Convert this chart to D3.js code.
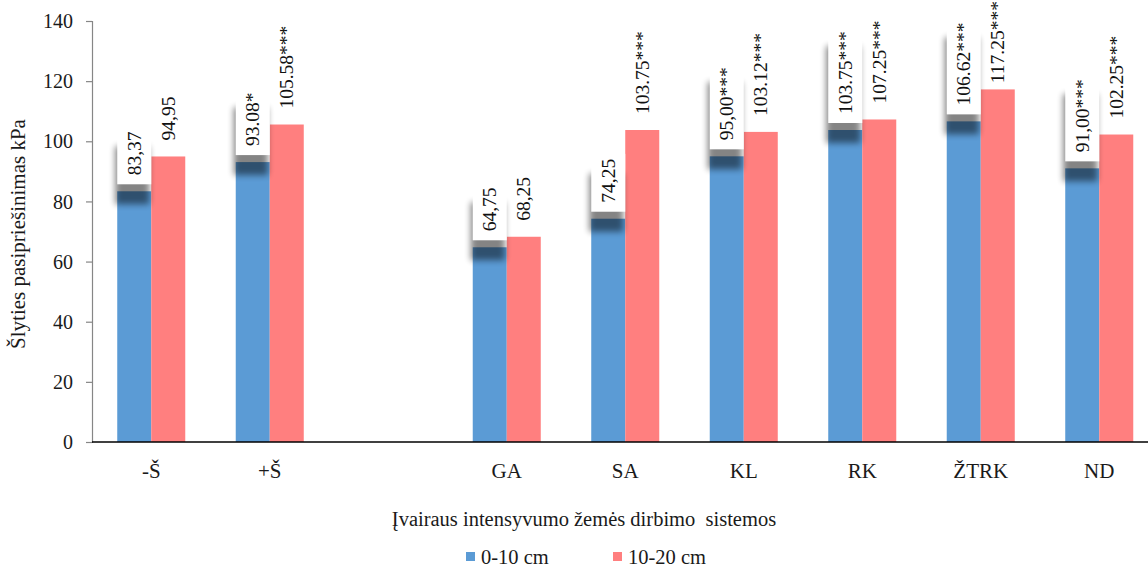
<!DOCTYPE html>
<html>
<head>
<meta charset="utf-8">
<script src="https://cdn.jsdelivr.net/npm/d3@7/dist/d3.min.js"></script>
<style>
  html, body { margin: 0; padding: 0; background: #fff; }
  svg { display: block; font-family: "Liberation Serif", "Times New Roman", serif; }
</style>
</head>
<body>
<svg id="chart" width="1148" height="568"></svg>
<script>
// Tillage systems (one empty slot separates the two groups)
const categories = ["-Š", "+Š", "", "GA", "SA", "KL", "RK", "ŽTRK", "ND"];
const series = ["0-10 cm", "10-20 cm"];
const seriesColors = ["#5b9bd5", "#ff7f7f"];

// Shear resistance, kPa
const depth0_10 = [83.37, 93.08, null, 64.75, 74.25, 95.00, 103.75, 106.62, 91.00];
const depth10_20 = [94.95, 105.58, null, 68.25, 103.75, 103.12, 107.25, 117.25, 102.25];

// Value labels as printed (significance marks included)
const labels0_10 = ["83,37", "93.08*", "", "64,75", "74,25", "95,00***", "103.75***", "106.62***", "91,00***"];
const labels10_20 = ["94,95", "105.58***", "", "68,25", "103.75***", "103.12***", "107.25***", "117.25***", "102.25***"];

const yTicks = [0, 20, 40, 60, 80, 100, 120, 140];

const yTitle = "Šlyties pasipriešinimas kPa";
const xTitle = "Įvairaus intensyvumo žemės dirbimo  sistemos";

const svg = d3.select("#chart");
const defs = svg.append("defs");

// soft shadow cast by the label boxes
defs.append("filter")
  .attr("id", "boxShadow")
  .attr("x", "-50%").attr("y", "-50%").attr("width", "200%").attr("height", "200%")
  .append("feGaussianBlur").attr("stdDeviation", 3);

const plot = { left: 92, right: 1158.5, top: 21, bottom: 442 };

const x = d3.scaleBand()
  .domain(categories)
  .range([plot.left, plot.right])
  .paddingInner(0.426)
  .paddingOuter(0.213);

const xSub = d3.scaleBand()
  .domain(series)
  .range([0, x.bandwidth()])
  .padding(0);

const y = d3.scaleLinear()
  .domain([0, 140])
  .range([plot.bottom, plot.top]);

// Y axis
const yAxis = svg.append("g")
  .attr("transform", `translate(${plot.left},0)`)
  .call(d3.axisLeft(y).tickValues(yTicks).tickSize(6).tickPadding(13));
yAxis.attr("font-family", null).attr("font-size", null);
yAxis.select(".domain").attr("stroke", "#868686").attr("stroke-width", 1.2);
yAxis.selectAll(".tick line").attr("stroke", "#868686").attr("stroke-width", 1.2);
yAxis.selectAll(".tick text")
  .attr("font-size", 20)
  .attr("fill", "#1a1a1a")
  .attr("dy", "0.33em");

// Bars
const rows = categories.map((c, i) => ({
  cat: c,
  vals: [depth0_10[i], depth10_20[i]],
  labs: [labels0_10[i], labels10_20[i]]
})).filter(r => r.vals[0] != null);

const groups = svg.append("g").selectAll("g")
  .data(rows)
  .join("g")
  .attr("transform", d => `translate(${x(d.cat)},0)`);

groups.selectAll("rect.bar")
  .data(d => d.vals.map((v, j) => ({ s: series[j], v, j })))
  .join("rect")
  .attr("class", "bar")
  .attr("x", d => xSub(d.s))
  .attr("width", xSub.bandwidth())
  .attr("y", d => y(d.v))
  .attr("height", d => y(0) - y(d.v))
  .attr("fill", d => seriesColors[d.j]);

// X axis baseline
svg.append("line")
  .attr("x1", plot.left).attr("x2", 1148)
  .attr("y1", plot.bottom).attr("y2", plot.bottom)
  .attr("stroke", "#000").attr("stroke-width", 1.6);

// Category labels
svg.append("g").selectAll("text")
  .data(rows)
  .join("text")
  .attr("x", d => x(d.cat) + x.bandwidth() / 2)
  .attr("y", 478)
  .attr("text-anchor", "middle")
  .attr("font-size", 21)
  .attr("fill", "#1a1a1a")
  .text(d => d.cat);

// Value labels
const labelFont = 19.5;
const labelGap = 16;
const labelLayer = svg.append("g");

rows.forEach(r => {
  r.vals.forEach((v, j) => {
    const s = series[j];
    const bx = x(r.cat) + xSub(s);
    const bw = xSub.bandwidth();
    const top = y(v);
    const cx = bx + bw / 2;
    const g = labelLayer.append("g");
    const t = g.append("text")
      .attr("dy", "0.34em")
      .attr("font-size", labelFont)
      .attr("fill", "#111")
      .text(r.labs[j]);
    const len = t.node().getComputedTextLength();
    // keep the label inside the chart area
    let start = top - labelGap;
    if (start - len < 1) start = len + 1;
    t.attr("transform", `translate(${cx},${start}) rotate(-90)`);
    if (j === 0) {
      // boxed label with a cast shadow for the 0-10 cm series
      const boxTop = start - len - 5;
      const boxBottom = top - 7;
      g.insert("rect", "text")
        .attr("x", bx - 2).attr("width", bw)
        .attr("y", boxTop + 20).attr("height", boxBottom - boxTop)
        .attr("fill", "#000").attr("opacity", 0.48)
        .attr("filter", "url(#boxShadow)");
      g.insert("rect", "text")
        .attr("x", bx).attr("width", bw)
        .attr("y", boxTop).attr("height", boxBottom - boxTop)
        .attr("fill", "#fff");
    }
  });
});

// Axis titles
svg.append("text")
  .attr("transform", "translate(25,234) rotate(-90)")
  .attr("text-anchor", "middle")
  .attr("font-size", 21)
  .attr("fill", "#1a1a1a")
  .text(yTitle);

svg.append("text")
  .attr("x", 584).attr("y", 526)
  .attr("text-anchor", "middle")
  .attr("font-size", 20.5)
  .attr("fill", "#1a1a1a")
  .style("white-space", "pre")
  .text(xTitle);

// Legend
const legendItems = [{ name: series[0], x: 466 }, { name: series[1], x: 613 }];
const legend = svg.append("g").selectAll("g")
  .data(legendItems)
  .join("g")
  .attr("transform", d => `translate(${d.x},552)`);
legend.append("rect")
  .attr("width", 9).attr("height", 9)
  .attr("fill", (d, i) => seriesColors[i]);
legend.append("text")
  .attr("x", 15).attr("y", 11.5)
  .attr("font-size", 20.5)
  .attr("fill", "#1a1a1a")
  .text(d => d.name);
</script>
</body>
</html>
